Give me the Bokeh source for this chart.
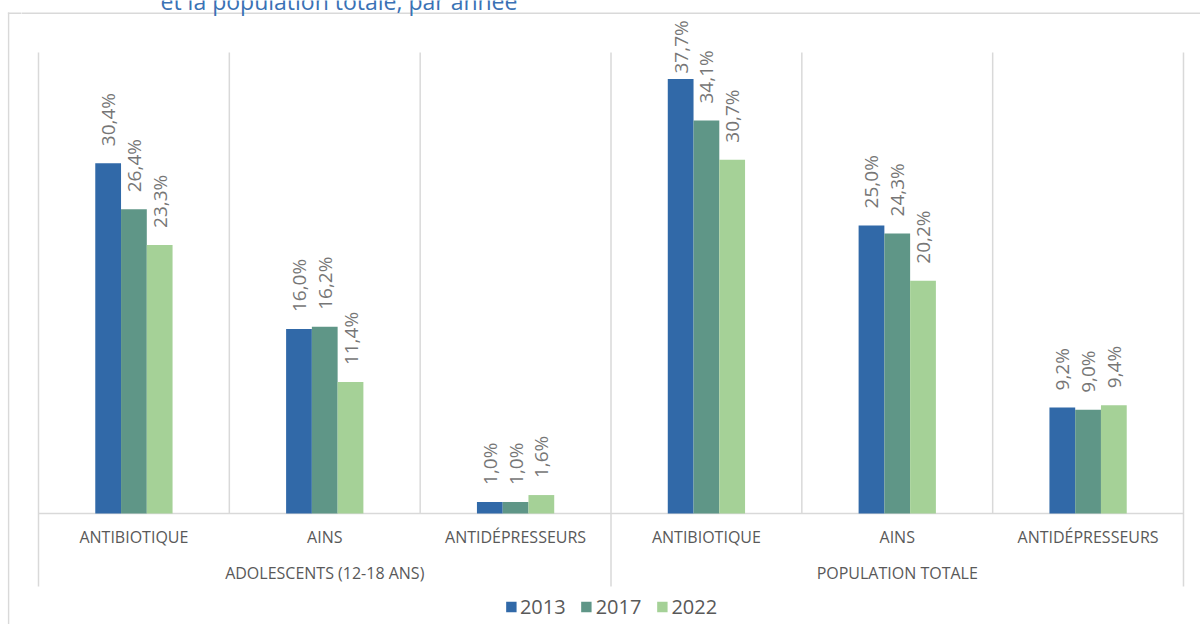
from bokeh.plotting import figure
from bokeh.layouts import row
from bokeh.models import (FactorRange, Range1d, ColumnDataSource, Legend, LegendItem, Spacer)
from bokeh.transform import dodge
from bokeh.core.properties import value
from bokeh.embed import file_html
from bokeh.resources import INLINE
from math import pi

groups = ["ADOLESCENTS (12-18 ANS)", "POPULATION TOTALE"]
medicaments = ["ANTIBIOTIQUE", "AINS", "ANTIDÉPRESSEURS"]
years = ["2013", "2017", "2022"]
v2013 = [30.4, 16.0, 1.0, 37.7, 25.0, 9.2]
v2017 = [26.4, 16.2, 1.0, 34.1, 24.3, 9.0]
v2022 = [23.3, 11.4, 1.6, 30.7, 20.2, 9.4]
colors = ["#3169A8", "#5F9687", "#A5D197"]
title_tail = "et la population totale, par année"

factors = [(g, m) for g in groups for m in medicaments]
series = [v2013, v2017, v2022]

FONT = "Open Sans"
GRID = "#D9D9D9"
TXT = "#595959"
H = 624
PX = 11.525            # pixels per percentage point
Y0 = 513               # baseline (page px)
def ydata(page_y):
    return (Y0 - page_y) / PX

# ---- thin left strip carrying the chart-area border ----
strip = figure(width=14, height=H, x_range=Range1d(0, 14), y_range=Range1d(H, 0),
               x_axis_type=None, y_axis_type=None, output_backend="svg",
               toolbar_location=None, min_border=0)
strip.outline_line_color = None
strip.xgrid.visible = False
strip.ygrid.visible = False
strip.quad(left=[0.3, 0.3], right=[1.8, 14], top=[12, 12], bottom=[H, 13.5],
           fill_color=GRID, line_color=None)

# ---- main chart ----
pad = 17 / 190.83
n = len(factors)
x_range = FactorRange(factors=factors, group_padding=0, factor_padding=0,
                      range_padding=pad, range_padding_units="absolute")
p = figure(width=1179, height=H, x_range=x_range, y_range=Range1d(ydata(H), ydata(0)),
           y_axis_type=None, output_backend="svg", toolbar_location=None,
           min_border_left=0, min_border_right=0, min_border_top=0, min_border_bottom=0)
p.outline_line_color = None
p.xgrid.visible = False
p.ygrid.visible = False

# top border of the chart area and the cut title line above it
p.quad(left=[-pad - 0.05], right=[n + pad + 0.05], top=[ydata(12)], bottom=[ydata(13.5)],
       fill_color=GRID, line_color=None)
p.text(x=[(160 - 38) / 190.83], y=[ydata(0.5)], text=[title_tail], text_font=value(FONT),
       text_font_size="23px", text_color="#3A72B5", text_baseline="alphabetic")

# category separators and baseline
top_line = 40
seg_src = ColumnDataSource(dict(
    x=list(range(n + 1)),
    y0=[ydata(586) if i % len(medicaments) == 0 else 0 for i in range(n + 1)],
    y1=[top_line] * (n + 1),
))
p.segment(x0="x", y0="y0", x1="x", y1="y1", source=seg_src, line_color=GRID, line_width=1.5)
p.segment(x0=[0], y0=[0], x1=[n], y1=[0], line_color=GRID, line_width=1.5)

width = 0.135
offsets = [-width, 0, width]
LABEL_GAP = 17 / PX
LABEL_CAP = ydata(73)
items = []
for yr, vals, col, off in zip(years, series, colors, offsets):
    src = ColumnDataSource(dict(x=factors, top=vals,
                                ly=[min(v + LABEL_GAP, LABEL_CAP) for v in vals],
                                label=[("%.1f" % v).replace(".", ",") + "%" for v in vals]))
    r = p.vbar(x=dodge("x", off, range=p.x_range), top="top", width=width, source=src,
               fill_color=col, line_color=None)
    p.text(x=dodge("x", off, range=p.x_range), y="ly", text="label", source=src,
           angle=pi / 2, text_align="left", text_baseline="middle",
           text_font=value(FONT), text_font_size="19px", text_color="#767676")
    items.append(LegendItem(label=yr, renderers=[r]))

# group labels (second level of the categorical axis)
p.text(x=groups, y=[ydata(572.5)] * len(groups), text=groups, text_align="center",
       text_baseline="middle", text_font=value(FONT), text_font_size="16px", text_color=TXT)

ax = p.xaxis[0]
ax.fixed_location = 0
ax.axis_line_color = None
ax.major_tick_line_color = None
ax.minor_tick_line_color = None
ax.separator_line_color = None
ax.major_label_standoff = 6
ax.major_label_text_font = FONT
ax.major_label_text_font_size = "16px"
ax.major_label_text_color = TXT
ax.major_label_text_line_height = 2.1
ax.group_text_color = None
ax.major_label_orientation = "horizontal"
ax.group_label_orientation = "horizontal"

legend = Legend(items=items, orientation="horizontal", location="bottom_center",
                border_line_color=None, background_fill_alpha=0,
                label_text_font=FONT, label_text_font_size="20px", label_text_color=TXT,
                glyph_width=13, glyph_height=13, spacing=14, label_standoff=3,
                margin=4, padding=4)
p.add_layout(legend, "center")

layout = row(Spacer(width=7, height=H), strip, p)
open("out.html", "w").write(file_html(layout, INLINE))
